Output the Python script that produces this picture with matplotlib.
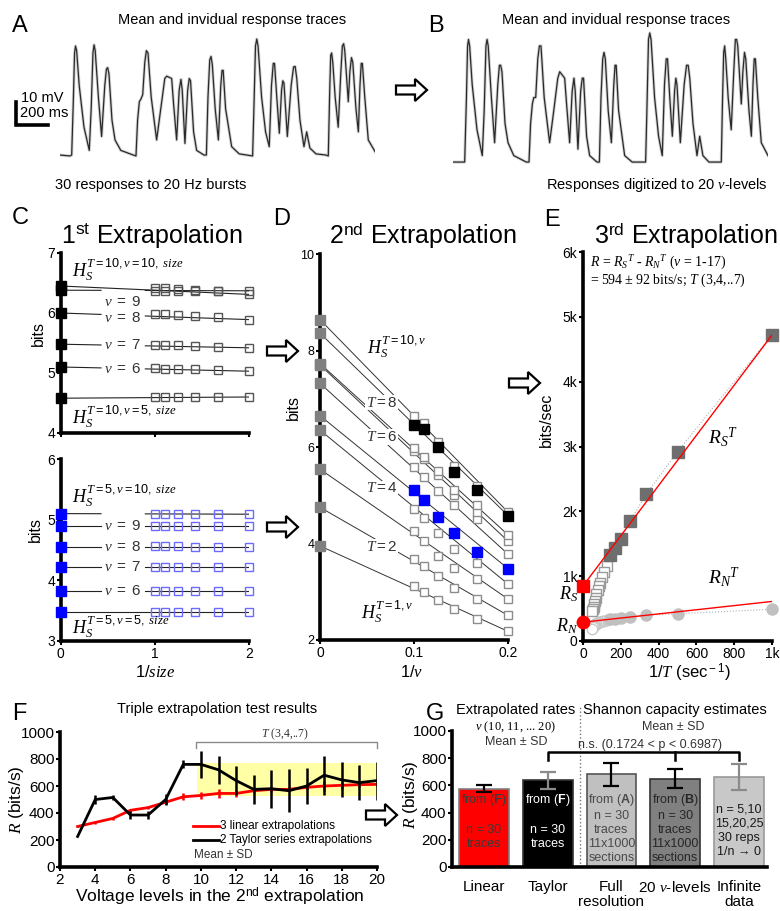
import numpy as np
import matplotlib
matplotlib.use("Agg")
import matplotlib.pyplot as plt
from matplotlib.patches import FancyArrow, Rectangle

plt.rcParams['font.family'] = ['Liberation Sans', 'DejaVu Sans']
plt.rcParams['mathtext.fontset'] = 'custom'
plt.rcParams['mathtext.rm'] = 'Liberation Sans'
plt.rcParams['mathtext.sf'] = 'Liberation Sans'
plt.rcParams['mathtext.it'] = 'Liberation Serif:italic'
plt.rcParams['mathtext.bf'] = 'Liberation Sans:bold'

# ---- panel A/B: mean response trace (ms, mV) ----
trace_points = [
    (0, 0), (62, -0.4), (73, 0), (84, 25), (91, 44), (97, 47), (104, 45), (120, 30),
    (150, 12), (183, 2), (195, 20), (206, 44), (213, 47.5), (220, 45), (240, 25),
    (260, 8), (280, 30), (290, 37), (298, 37.7), (306, 35), (325, 15), (344, 6.5),
    (380, 2), (458, 0), (475, -0.4), (485, 15), (496, 23), (505, 24), (517, 26),
    (530, 40), (540, 45), (550, 44), (570, 25), (604, 6.5), (630, 20), (655, 33),
    (667, 34), (698, 33), (710, 22), (729, 6.5), (745, 28), (756, 32.6), (764, 28),
    (781, 5), (798, 28), (808, 33), (816, 32), (835, 10), (854, 2), (900, 0),
    (915, 0), (925, 25), (936, 41), (944, 42.5), (952, 39), (970, 20), (990, 6.5),
    (1005, 30), (1013, 36.5), (1020, 36.5), (1035, 20), (1073, 3.6), (1120, 0.5),
    (1204, -0.4), (1212, 20), (1222, 47), (1230, 50), (1238, 47), (1260, 25),
    (1285, 10), (1308, 3.6), (1322, 30), (1333, 39.5), (1341, 39.5), (1355, 25),
    (1371, 9.4), (1385, 28), (1393, 32), (1400, 31), (1421, 8), (1445, 30),
    (1460, 38), (1470, 38.2), (1480, 33), (1500, 15), (1525, 3.6), (1542, 10),
    (1562, 3), (1600, 0.5), (1662, 0), (1677, -0.4), (1685, 25), (1692, 43),
    (1698, 44), (1705, 40), (1720, 25), (1739, 12), (1755, 35), (1765, 47),
    (1773, 48), (1780, 45), (1802, 23), (1812, 36), (1822, 42), (1830, 40),
    (1850, 20), (1865, 10), (1875, 30), (1883, 39.5), (1890, 39.5), (1905, 25),
    (1927, 6.5), (1969, 1.5)]
trace_ms = [p[0] for p in trace_points]
trace_mv = [p[1] for p in trace_points]
n_levels = 20

# ---- panel C: 1st extrapolation (entropy vs 1/size) ----
c_inv_size = [1.0, 1.11, 1.25, 1.43, 1.67, 2.0]
c_nu = [10, 9, 8, 7, 6, 5]
c_top_h0 = [6.45, 6.38, 6.00, 5.48, 5.10, 4.58]      # T=10, extrapolated
c_top_h = [[6.42, 6.41, 6.40, 6.38, 6.36, 6.31],
           [6.36, 6.36, 6.36, 6.36, 6.37, 6.37],
           [5.99, 5.98, 5.97, 5.95, 5.93, 5.89],
           [5.47, 5.46, 5.46, 5.45, 5.44, 5.42],
           [5.08, 5.07, 5.07, 5.06, 5.05, 5.03],
           [4.60, 4.60, 4.60, 4.60, 4.60, 4.60]]
c_bot_h0 = [5.10, 4.90, 4.55, 4.22, 3.82, 3.48]      # T=5, extrapolated
c_bot_h = [[5.09, 5.09, 5.09, 5.09, 5.09, 5.09],
           [4.90, 4.90, 4.90, 4.90, 4.90, 4.90],
           [4.56, 4.56, 4.56, 4.55, 4.55, 4.55],
           [4.22, 4.22, 4.22, 4.22, 4.22, 4.22],
           [3.83, 3.83, 3.83, 3.82, 3.82, 3.82],
           [3.48, 3.48, 3.48, 3.48, 3.48, 3.48]]

# ---- panel D: 2nd extrapolation (entropy vs 1/nu), rows T = 1..10 ----
d_inv_nu = [0.1, 0.111, 0.125, 0.143, 0.167, 0.2]
d_T = [1, 2, 3, 4, 5, 6, 7, 8, 9, 10]
d_h0 = [3.95, 4.75, 5.54, 6.35, 6.65, 7.32, 7.70, 7.73, 8.64, 8.36]
d_h = [[3.12, 2.99, 2.82, 2.64, 2.44, 2.18],
       [3.68, 3.53, 3.33, 3.07, 2.85, 2.51],
       [4.25, 4.05, 3.74, 3.50, 3.26, 2.85],
       [4.71, 4.53, 4.22, 3.88, 3.60, 3.16],
       c_bot_h0,
       [5.59, 5.38, 5.08, 4.80, 4.50, 3.78],
       [5.92, 5.75, 5.42, 5.00, 4.65, 4.05],
       [5.97, 5.79, 5.50, 5.10, 4.80, 4.18],
       [6.65, 6.50, 6.10, 5.60, 5.20, 4.65],
       c_top_h0]

# ---- panel E: 3rd extrapolation (rate vs 1/T) ----
e_inv_T = [1000, 500, 333.3, 250, 200, 166.7, 142.9]
e_rs = [4720, 2920, 2260, 1850, 1580, 1430, 1320]
e_rn = [490, 420, 400, 370, 355, 345, 335]
e_inv_T_rest = [125, 111.1, 100, 90.9, 83.3, 76.9, 71.4, 66.7, 62.5, 58.8, 55.6, 52.6, 50]
e_rs_rest = [1150, 1060, 980, 900, 850, 780, 720, 660, 610, 570, 530, 490, 460]
e_rn_rest = [320, 315, 305, 300, 290, 280, 270, 260, 250, 240, 225, 210, 190]
e_fit_x = [0, 1000]
e_rs_fit = [850, 4720]
e_rn_fit = [290, 610]

# ---- panel F: triple extrapolation results ----
f_nu = [3, 4, 5, 6, 7, 8, 9, 10, 11, 12, 13, 14, 15, 16, 17, 18, 19, 20]
f_linear = [300, 330, 360, 420, 440, 480, 520, 530, 545, 545, 565, 575, 575, 590, 600, 605, 610, 612]
f_linear_sd = [5, 10, 10, 10, 10, 15, 25, 25, 35, 25, 20, 20, 15, 20, 35, 25, 15, 15]
f_taylor = [226, 500, 515, 385, 385, 500, 760, 760, 720, 640, 575, 580, 565, 600, 680, 645, 625, 640]
f_taylor_sd = [0, 30, 20, 30, 30, 40, 30, 100, 105, 110, 110, 140, 160, 135, 145, 130, 130, 140]

# ---- panel G: rate estimates ----
g_labels = ['Linear', 'Taylor', 'Full\nresolution', '20 $\\nu$-levels', 'Infinite\ndata']
g_means = [576, 637, 681, 650, 662]
g_sds = [27, 62, 86, 70, 98]
g_notes = ['from ($\\mathbf{F}$)\n\nn = 30\ntraces',
           'from ($\\mathbf{F}$)\n\nn = 30\ntraces',
           'from ($\\mathbf{A}$)\nn = 30\ntraces\n11x1000\nsections',
           'from ($\\mathbf{B}$)\nn = 30\ntraces\n11x1000\nsections',
           'n = 5,10\n15,20,25\n30 reps\n1/n \u2192 0']

W, H = 780, 911
fig = plt.figure(figsize=(W / 100, H / 100), dpi=100)


def px_axes(left, top, right, bottom):
    return fig.add_axes([left / W, 1 - bottom / H, (right - left) / W, (bottom - top) / H])


def style_axes(ax, size=10):
    for s in ['top', 'right']:
        ax.spines[s].set_visible(False)
    for s in ['left', 'bottom']:
        ax.spines[s].set_linewidth(2.6)
    ax.tick_params(direction='out', length=3, width=1.5, labelsize=size, pad=1)


# overlay in pixel units for letters, titles, labels and arrows
ov = fig.add_axes([0, 0, 1, 1], zorder=5)
ov.set_xlim(0, W)
ov.set_ylim(H, 0)
ov.axis('off')
ov.patch.set_alpha(0)


def hollow_arrow(x0, x1, y):
    ov.add_patch(FancyArrow(x0, y, x1 - x0, 0, width=9, head_width=22, head_length=12,
                            length_includes_head=True, fc='white', ec='black', lw=1.6))


for letter, x, y in [('A', 12, 32), ('B', 428, 32), ('C', 12, 224), ('D', 273, 225),
                     ('E', 544, 226), ('F', 12, 720), ('G', 426, 720)]:
    ov.text(x, y, letter, fontsize=17, ha='left', va='baseline')

# ---- A and B traces ----
axA = px_axes(60, 30, 375, 165)
axA.axis('off')
axA.set_xlim(0, 1969)
axA.set_ylim(-4.3, 53.9)
axA.plot(trace_ms, trace_mv, color='#d2d2d2', lw=2.2, solid_joinstyle='round')
axA.plot(trace_ms, trace_mv, color='#2a2a2a', lw=0.9)
axA.plot([-275, -275, -75], [23, 13, 13], color='black', lw=2.6, clip_on=False,
         solid_joinstyle='miter')
axA.text(-245, 24.6, '10 mV', fontsize=10.5, va='center', ha='left')
axA.text(-250, 18.3, '200 ms', fontsize=10.5, va='center', ha='left')

axB = px_axes(453, 25, 768, 168)
axB.axis('off')
axB.set_xlim(0, 1969)
axB.set_ylim(-2.3, 53.1)
step = 50 / n_levels
b_mv = np.round(np.array(trace_mv) / step) * step
axB.plot(trace_ms, b_mv, color='#d2d2d2', lw=2.2)
axB.plot(trace_ms, b_mv, color='#2a2a2a', lw=0.9)

ov.text(232, 20, 'Mean and invidual response traces', fontsize=10.5, ha='center', va='center')
ov.text(616, 20, 'Mean and invidual response traces', fontsize=10.5, ha='center', va='center')
ov.text(151, 185, '30 responses to 20 Hz bursts', fontsize=10.5, ha='center', va='center')
ov.text(657, 185, 'Responses digitized to 20 $\\nu$-levels', fontsize=10.5, ha='center', va='center')
hollow_arrow(396, 427, 90)

# ---- C ----
titles = [(152, '1$^{\\rm st}$ Extrapolation'), (423, '2$^{\\rm nd}$ Extrapolation'),
          (686, '3$^{\\rm rd}$ Extrapolation')]
for x, t in titles:
    ov.text(x, 236, t, fontsize=18, ha='center', va='center')


def panel_c(ax, h0, rows, face, edge, gapped, ylim):
    ax.set_xlim(0, 2)
    ax.set_ylim(*ylim)
    for i in range(len(h0)):
        y_end = rows[i][-1]
        if i in gapped:
            for xa, xb in [(0, 0.43), (0.9, 2)]:
                ya = h0[i] + (y_end - h0[i]) * xa / 2
                yb = h0[i] + (y_end - h0[i]) * xb / 2
                ax.plot([xa, xb], [ya, yb], color='#222222', lw=0.8)
        else:
            ax.plot([0, 2], [h0[i], y_end], color='#222222', lw=0.8)
        ax.plot(c_inv_size, rows[i], ls='none', marker='s', ms=5.5, mfc='none',
                mec=edge, mew=1.0, clip_on=False)
    ax.plot([0] * len(h0), h0, ls='none', marker='s', ms=7, color=face, clip_on=False, zorder=5)
    ax.set_xticks([0, 1, 2])
    ax.set_yticks(range(ylim[0], ylim[1] + 1))
    style_axes(ax)


axC1 = px_axes(60.5, 253, 249, 433)
panel_c(axC1, c_top_h0, c_top_h, 'black', '#555555', [1, 2, 3, 4], (4, 7))
axC1.set_xticklabels([])
sup = dict(fontsize=13, ha='left', va='center')
axC1.text(0.12, 6.72, '$H_S^{\\mathit{T=10,\\nu=10,\\ size}}$', **sup)
axC1.text(0.12, 4.27, '$H_S^{\\mathit{T=10,\\nu=5,\\ size}}$', **sup)
for y, nu in [(6.19, 9), (5.92, 8), (5.46, 7), (5.06, 6)]:
    axC1.text(0.66, y, '$\\mathit{\\nu\\ =\\ %d}$' % nu, fontsize=11, ha='center', va='center',
              color='#333333')

axC2 = px_axes(60.5, 459, 249, 641)
panel_c(axC2, c_bot_h0, c_bot_h, '#0000ff', '#6b6bff', [0, 1, 2, 3, 4], (3, 6))
axC2.text(0.12, 5.4, '$H_S^{\\mathit{T=5,\\nu=10,\\ size}}$', **sup)
axC2.text(0.12, 3.24, '$H_S^{\\mathit{T=5,\\nu=5,\\ size}}$', **sup)
for y, nu in zip(c_bot_h0[1:5], c_nu[1:5]):
    axC2.text(0.66, y, '$\\mathit{\\nu\\ =\\ %d}$' % nu, fontsize=11, ha='center', va='center',
              color='#333333')

ov.text(38, 333, 'bits', fontsize=11.5, rotation=90, ha='center', va='center')
ov.text(35, 530, 'bits', fontsize=11.5, rotation=90, ha='center', va='center')
ov.text(155, 672, '1/$\\mathit{size}$', fontsize=12, ha='center', va='center')
hollow_arrow(267, 298, 351)
hollow_arrow(267, 298, 527)

# ---- D ----
axD = px_axes(320, 254, 508, 640)
axD.set_xlim(0, 0.2)
axD.set_ylim(2, 10)
for i, T in enumerate(d_T):
    axD.plot([0, 0.2], [d_h0[i], d_h[i][-1]], color='#333333', lw=0.7, zorder=1)
    axD.plot(d_inv_nu, d_h[i], ls='none', marker='s', ms=6, mfc='white', mec='#8c8c8c',
             mew=1.0, clip_on=False, zorder=2)
axD.plot(d_inv_nu, d_h[4], ls='none', marker='s', ms=6.5, color='#0000ff', zorder=3,
         clip_on=False)
axD.plot(d_inv_nu, d_h[9], ls='none', marker='s', ms=6.5, color='black', zorder=3,
         clip_on=False)
axD.plot([0] * len(d_h0), d_h0, ls='none', marker='s', ms=6.5, color='#808080',
         clip_on=False, zorder=4)
box = dict(fc='white', ec='none', pad=0.5)
axD.text(0.082, 8.08, '$H_S^{\\mathit{T=10,\\nu}}$', fontsize=13, ha='center', va='center', bbox=box)
axD.text(0.072, 2.59, '$H_S^{\\mathit{T=1,\\nu}}$', fontsize=13, ha='center', va='center', bbox=box)
for y, T in [(6.92, 8), (6.21, 6), (5.14, 4), (3.93, 2)]:
    axD.text(0.0655, y, '$\\mathit{T=%d}$' % T, fontsize=11, ha='center', va='center',
             color='#333333', bbox=box, zorder=3)
axD.set_xticks([0, 0.1, 0.2])
axD.set_xticklabels(['0', '0.1', '0.2'])
axD.set_yticks([2, 4, 6, 8, 10])
style_axes(axD)
axD.tick_params(axis='y', labelsize=9)
ov.text(293, 407, 'bits', fontsize=11.5, rotation=90, ha='center', va='center')
ov.text(412, 672, '1/$\\nu$', fontsize=12, ha='center', va='center')
hollow_arrow(509, 540, 383)

# ---- E ----
axE = px_axes(583, 252, 772, 641)
axE.set_xlim(0, 1000)
axE.set_ylim(0, 6000)
axE.plot(e_inv_T, e_rs, ls=':', color='#b0b0b0', lw=0.8)
axE.plot(e_inv_T, e_rn, ls=':', color='#b0b0b0', lw=0.8)
axE.plot(e_inv_T_rest, e_rs_rest, ls='none', marker='s', ms=7.5, mfc='white', mec='#9a9a9a', mew=1.0)
axE.plot(e_inv_T_rest, e_rn_rest, ls='none', marker='o', ms=7.5, mfc='white', mec='#c8c8c8', mew=1.0)
axE.plot(e_inv_T, e_rs, ls='none', marker='s', ms=8, color='#6e6e6e', clip_on=False)
axE.plot(e_inv_T, e_rn, ls='none', marker='o', ms=8, color='#c0c0c0', clip_on=False)
axE.plot(e_fit_x, e_rs_fit, color='red', lw=1.0)
axE.plot(e_fit_x, e_rn_fit, color='red', lw=1.0)
axE.plot(0, e_rs_fit[0], marker='s', ms=8.5, color='red', clip_on=False, zorder=6)
axE.plot(0, e_rn_fit[0], marker='o', ms=9, color='red', clip_on=False, zorder=6)
axE.set_xticks([0, 200, 400, 600, 800, 1000])
axE.set_xticklabels(['0', '200', '400', '600', '800', '1k'])
axE.set_yticks(range(0, 7000, 1000))
axE.set_yticklabels(['0', '1k', '2k', '3k', '4k', '5k', '6k'])
style_axes(axE)
serif = dict(family=['Liberation Serif', 'DejaVu Serif'], fontsize=10, ha='left', va='center')
axE.text(39, 5830, '$R$ = $R_S{}^T$ - $R_N{}^T$ ($\\nu$ = 1-17)', **serif)
axE.text(39, 5560, '= 594 \u00b1 92 bits/s; $T$ (3,4,..7)', **serif)
axE.text(740, 3150, '$R_S{}^T$', fontsize=14, ha='center', va='center')
axE.text(745, 980, '$R_N{}^T$', fontsize=14, ha='center', va='center')
axE.text(-24, 720, '$R_S$', fontsize=13, ha='right', va='center')
axE.text(-24, 230, '$R_N$', fontsize=13, ha='right', va='center')
ov.text(546, 420, 'bits/sec', fontsize=11.5, rotation=90, ha='center', va='center')
ov.text(689, 673, '1/$T$ (sec$^{\\rm -1}$)', fontsize=12, ha='center', va='center')

# ---- F ----
axF = px_axes(60, 732, 377, 867)
axF.set_xlim(2, 20)
axF.set_ylim(0, 1000)
axF.add_patch(Rectangle((9.77, 526), 20 - 9.77, 245, fc='#ffffa6', ec='none', zorder=0))
axF.errorbar(f_nu, f_linear, yerr=f_linear_sd, color='red', lw=2, elinewidth=1.8, capsize=0, zorder=2)
axF.errorbar(f_nu, f_taylor, yerr=f_taylor_sd, color='black', lw=2, elinewidth=1.8, capsize=0, zorder=3)
axF.plot([9.7, 9.7, 20, 20], [884, 926, 926, 884], color='#8a8a8a', lw=1, clip_on=False)
axF.text(14.8, 985, '$T$ (3,4,..7)', family=['Liberation Serif'], fontsize=8.5, ha='center',
         va='center', color='#333333')
axF.plot([9.58, 11.0], [305, 305], color='red', lw=2)
axF.plot([9.58, 11.0], [200, 200], color='black', lw=2)
axF.text(11.1, 305, '3 linear extrapolations', fontsize=8.5, va='center')
axF.text(11.1, 200, '2 Taylor series extrapolations', fontsize=8.5, va='center')
axF.text(9.62, 90, 'Mean \u00b1 SD', fontsize=8.5, va='center', color='#333333')
axF.set_xticks(range(2, 21, 2))
axF.set_yticks(range(0, 1001, 200))
style_axes(axF, size=11)
ov.text(217, 709, 'Triple extrapolation test results', fontsize=10.5, ha='center', va='center')
ov.text(220, 897, 'Voltage levels in the 2$^{\\rm nd}$ extrapolation', fontsize=12.5,
        ha='center', va='center')
ov.text(17, 800, '$R$ (bits/s)', fontsize=12.5, rotation=90, ha='center', va='center')
hollow_arrow(366, 397, 815)

# ---- G ----
axG = px_axes(452, 731, 767, 867)
axG.set_xlim(-0.5, 4.44)
axG.set_ylim(0, 1000)
g_colors = ['#ff0000', '#000000', '#c0c0c0', '#808080', '#c8c8c8']
g_edges = ['#808080', '#333333', '#555555', '#333333', '#9a9a9a']
g_errc = ['black', '#8a8a8a', 'black', 'black', '#8a8a8a']
g_textc = ['#3a3a3a', 'white', '#4a4a4a', '#262626', '#1a1a1a']
xs = np.arange(len(g_means))
axG.bar(xs, g_means, width=0.78, color=g_colors, edgecolor=g_edges, lw=1.2, zorder=2)
for i in xs:
    axG.errorbar(i, g_means[i], yerr=g_sds[i], color=g_errc[i], lw=1.6, capsize=6,
                 capthick=1.6, zorder=3)
    top = 465 if i == 4 else 548
    axG.text(i, top, g_notes[i], fontsize=9, ha='center', va='top', color=g_textc[i],
             linespacing=1.22, zorder=4)
    axG.text(i, -95, g_labels[i], fontsize=11, ha='center', va='top', linespacing=1.1,
             clip_on=False)
axG.plot([1.5, 1.5], [0, 1185], ls=':', color='#777777', lw=1, clip_on=False)
axG.plot([1, 1, 4, 4], [790, 845, 845, 790], color='black', lw=1.8, clip_on=False)
axG.plot([3, 3], [845, 790], color='black', lw=1.8)
axG.text(0.5, 1154, 'Extrapolated rates', fontsize=10.5, ha='center', va='center')
axG.text(2.99, 1154, 'Shannon capacity estimates', fontsize=10.5, ha='center', va='center')
axG.text(0.5, 1029, '$\\nu$ (10, 11, ... 20)', family=['Liberation Serif'], fontsize=9,
         ha='center', va='center')
axG.text(0.5, 919, 'Mean \u00b1 SD', fontsize=9, ha='center', va='center', color='#333333')
axG.text(2.97, 1029, 'Mean \u00b1 SD', fontsize=9, ha='center', va='center', color='#333333')
axG.text(2.6, 897, 'n.s. (0.1724 < p < 0.6987)', fontsize=9, ha='center', va='center',
         color='#333333')
axG.set_xticks(xs)
axG.set_xticklabels([])
axG.set_yticks(range(0, 1001, 200))
style_axes(axG, size=11)
axG.tick_params(axis='x', length=0)
ov.text(410, 795, '$R$ (bits/s)', fontsize=12.5, rotation=90, ha='center', va='center')

fig.savefig('out.png', dpi=100)
